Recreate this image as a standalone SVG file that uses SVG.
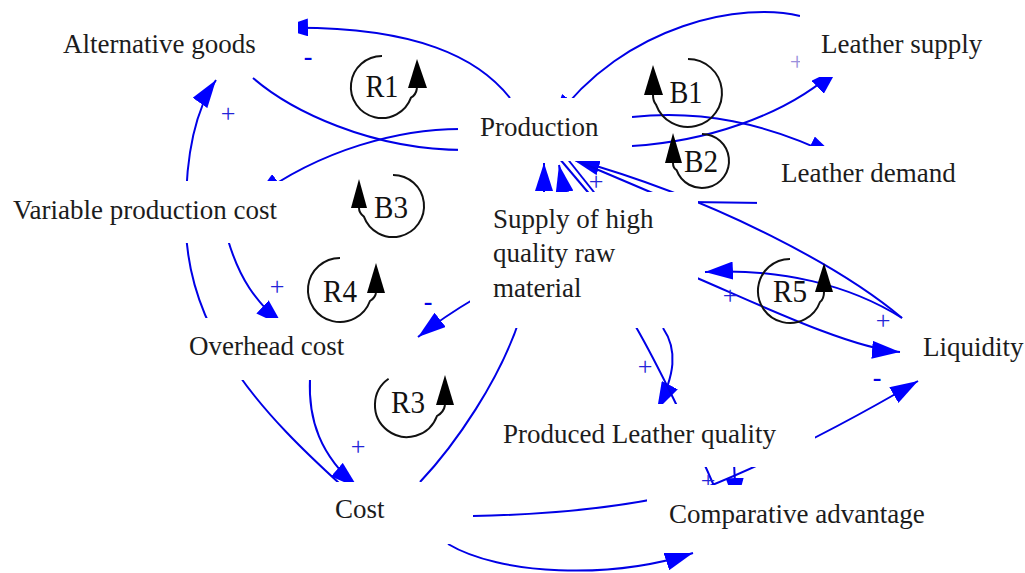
<svg xmlns="http://www.w3.org/2000/svg" width="1025" height="573" viewBox="0 0 1025 573">
<defs>
<style>
.lbl{font-family:"Liberation Serif","Times New Roman",serif;font-size:27px;fill:#1c1c1c}
.box{fill:#fff}
.cn{fill:none;stroke:#0000e6;stroke-width:2}
.ar{marker-end:url(#ah)}
.sg{font-family:"Liberation Serif","Times New Roman",serif;font-size:26px;fill:#2424d8;text-anchor:middle}
.sgm{font-family:"Liberation Serif","Times New Roman",serif;font-size:26px;font-weight:bold;fill:#0000e6;text-anchor:middle}
.lp{fill:none;stroke:#111;stroke-width:2}
.lpa{fill:#000}
.lt{font-family:"Liberation Serif","Times New Roman",serif;font-size:31px;fill:#111;text-anchor:middle}
</style>
<marker id="ah" viewBox="0 0 28 18" refX="28" refY="9" markerWidth="28" markerHeight="18" markerUnits="userSpaceOnUse" orient="auto"><path d="M0,0 L28,9 L0,18 z" fill="#0000ff"/></marker>
</defs>
<rect width="1025" height="573" fill="#fff"/>

<!-- causal links -->
<g id="connectors">
<path class="cn ar" d="M510,98 C480,60 420,25 280,28"/>
<path class="cn" d="M253,78 C290,110 370,150 465,150"/>
<path class="cn ar" d="M465,129 C400,128 320,150 255,198"/>
<path class="cn ar" d="M340,484 C270,420 190,340 186,230 C184,160 195,110 216,80"/>
<path class="cn ar" d="M228,240 C240,280 255,300 283,326"/>
<path class="cn ar" d="M310,378 C308,420 320,455 358,488"/>
<path class="cn ar" d="M474,299 Q445,316 418,337"/>
<path class="cn" d="M420,482 C455,445 500,380 520,318"/>
<path class="cn" d="M473,516 Q580,514 660,498"/>
<path class="cn ar" d="M448,544 C500,575 610,580 693,553"/>
<path class="cn ar" d="M663,328 C678,350 675,375 657,410"/>
<path class="cn" d="M636,327 C655,360 690,430 718,495"/>
<path class="cn ar" d="M733,440 L736,506"/>
<path class="cn ar" d="M705,488 Q800,450 918,381"/>
<path class="cn ar" d="M632,117 C700,110 765,122 836,157"/>
<path class="cn ar" d="M632,146 C700,142 785,118 838,68"/>
<path class="cn ar" d="M800,16 C745,2 625,22 553,122"/>
<path class="cn ar" d="M902,318 C845,270 720,200 572,159"/>
<path class="cn ar" d="M902,318 C850,285 780,268 705,272"/>
<path class="cn ar" d="M697,278 C760,305 850,348 900,352"/>
<path class="cn ar" d="M544,240 L544,163"/>
<path class="cn ar" d="M574,240 L559,165"/>
<path class="cn" d="M559,158 L592,197"/>
<path class="cn" d="M566,157 L597,196"/>
<path class="cn" d="M575,160 L662,197"/>
<path class="cn" d="M690,202 L770,203"/>
<path class="cn" d="M697,268 L697,281"/>
<!-- polarity signs -->
<text class="sg" x="228" y="122">+</text>
<text class="sgm" x="308" y="65">-</text>
<text class="sg" x="277" y="295">+</text>
<text class="sgm" x="428" y="310">-</text>
<text class="sg" x="358" y="455">+</text>
<text class="sg" x="596" y="190">+</text>
<text class="sg" x="797" y="70" style="fill:#9a90dc">+</text>
<text class="sg" x="645" y="375">+</text>
<text class="sg" x="730" y="304">+</text>
<text class="sg" x="883" y="329">+</text>
<text class="sgm" x="877" y="386">-</text>
<text class="sg" x="708" y="489">+</text>
</g>

<!-- variables -->
<g id="alternative-goods"><rect class="box" x="30" y="5" width="268" height="72"/><text class="lbl" x="63" y="53">Alternative goods</text></g>
<g id="production"><rect class="box" x="458" y="98" width="174" height="63"/><text class="lbl" x="480" y="136">Production</text></g>
<g id="leather-supply"><rect class="box" x="800" y="0" width="214" height="77"/><text class="lbl" x="821" y="53">Leather supply</text></g>
<g id="leather-demand"><rect class="box" x="757" y="146" width="225" height="60"/><text class="lbl" x="781" y="182">Leather demand</text></g>
<g id="variable-production-cost"><rect class="box" x="0" y="181" width="290" height="62"/><text class="lbl" x="13" y="219">Variable production cost</text></g>
<g id="supply-raw-material"><rect class="box" x="470" y="192" width="228" height="136"/><text class="lbl" x="493" y="228">Supply of high</text><text class="lbl" x="493" y="262">quality raw</text><text class="lbl" x="493" y="297">material</text></g>
<g id="overhead-cost"><rect class="box" x="170" y="318" width="245" height="62"/><text class="lbl" x="189" y="355">Overhead cost</text></g>
<g id="liquidity"><rect class="box" x="904" y="318" width="121" height="58"/><text class="lbl" x="923" y="356">Liquidity</text></g>
<g id="produced-leather-quality"><rect class="box" x="490" y="404" width="325" height="63"/><text class="lbl" x="503" y="443">Produced Leather quality</text></g>
<g id="cost"><rect class="box" x="322" y="482" width="150" height="62"/><text class="lbl" x="335" y="518">Cost</text></g>
<g id="comparative-advantage"><rect class="box" x="647" y="485" width="298" height="63"/><text class="lbl" x="669" y="523">Comparative advantage</text></g>

<!-- loop markers -->
<g id="loop-R1"><path class="lp" d="M382,56 A31,31 0 1,0 411,97.6 Q416,95 417,88"/><polygon class="lpa" points="408,88 417,59 427,88"/><text class="lt" x="382" y="97" textLength="33" lengthAdjust="spacingAndGlyphs">R1</text></g>
<g id="loop-B1"><path class="lp" d="M688,59 A34,34 0 1,1 656,104.6 Q653,101 653,95"/><polygon class="lpa" points="644,95 653,65 663,95"/><text class="lt" x="686" y="103" textLength="33" lengthAdjust="spacingAndGlyphs">B1</text></g>
<g id="loop-B2"><path class="lp" d="M702,134 A27,27 0 1,1 676.6,170.2 Q673,168 673,163"/><polygon class="lpa" points="665,163 673,133 682,163"/><text class="lt" x="701" y="172" textLength="34" lengthAdjust="spacingAndGlyphs">B2</text></g>
<g id="loop-B3"><path class="lp" d="M393,175 A31,31 0 1,1 363.9,216.6 Q359,213 359,208"/><polygon class="lpa" points="351,208 359,179 367,208"/><text class="lt" x="391" y="218" textLength="34" lengthAdjust="spacingAndGlyphs">B3</text></g>
<g id="loop-R4"><path class="lp" d="M340,258 A32,32 0 1,0 370,301 Q375,298 376,293"/><polygon class="lpa" points="367,293 376,263 385,293"/><text class="lt" x="340" y="302" textLength="34" lengthAdjust="spacingAndGlyphs">R4</text></g>
<g id="loop-R3"><path class="lp" d="M388.6,378.8 A32,32 0 1,0 437,416 Q444,412 445,405"/><polygon class="lpa" points="436,405 445,375 454,405"/><text class="lt" x="408" y="413" textLength="34" lengthAdjust="spacingAndGlyphs">R3</text></g>
<g id="loop-R5"><path class="lp" d="M790,259 A32,32 0 1,0 820,302 Q824,299 824,292"/><polygon class="lpa" points="815,292 824,263 833,292"/><text class="lt" x="790" y="302" textLength="34" lengthAdjust="spacingAndGlyphs">R5</text></g>
</svg>
